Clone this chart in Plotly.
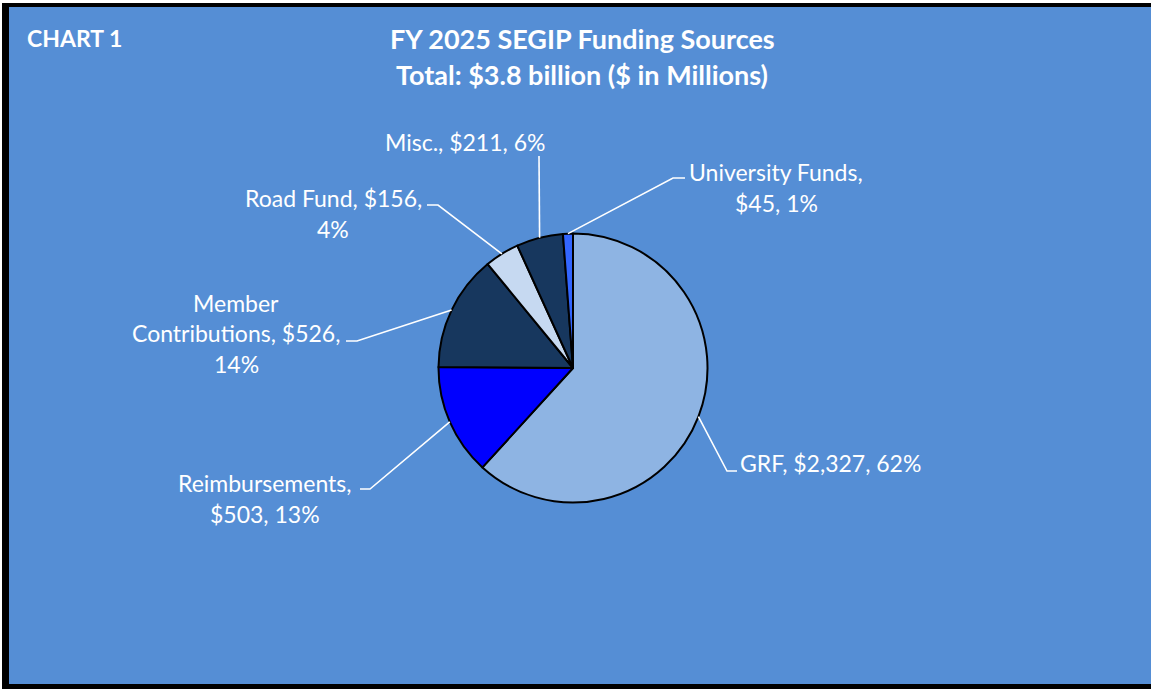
import math
import plotly.graph_objects as go

# ---- data ----
labels = ["GRF", "Reimbursements", "Member Contributions", "Road Fund", "Misc.", "University Funds"]
values = [2327, 503, 526, 156, 211, 45]
colors = ["#8EB4E3", "#0000FF", "#17375E", "#C6D9F1", "#17375E", "#3366FF"]
label_lines = [
    ["GRF, $2,327, 62%"],
    ["Reimbursements,", "$503, 13%"],
    ["Member", "Contributions, $526,", "14%"],
    ["Road Fund, $156,", "4%"],
    ["Misc., $211, 6%"],
    ["University Funds,", "$45, 1%"],
]
title_lines = ["FY 2025 SEGIP Funding Sources", "Total: $3.8 billion ($ in Millions)"]
chart_tag = "CHART 1"

# ---- layout (pixels) ----
W, H = 1151, 689
CX, CY, R = 573, 368, 134.5
BG = "#558ED5"
FONT = "Lato"


def px(x):
    return x / W


def py(y):
    return 1 - y / H


# label block centres (x, first-line y), elbow points and line spacing
label_pos = [
    (830, 463), (265, 483), (236, 303), (333, 198), (465, 142), (776, 172),
]
elbows = [
    [(727, 471), (737, 471)],
    [(370, 489), (360, 489)],
    [(357, 341), (346, 341)],
    [(438, 205), (427, 205)],
    [(539, 156)],
    [(673, 178), (685, 178)],
]
LINE_SP = 30.5

fig = go.Figure()
fig.add_trace(go.Pie(
    labels=labels, values=values, sort=False, direction="clockwise", rotation=0,
    marker=dict(colors=colors, line=dict(color="black", width=2)),
    textinfo="none", hoverinfo="label+value+percent", showlegend=False,
    domain=dict(x=[px(CX - R), px(CX + R)], y=[py(CY + R), py(CY - R)]),
))

shapes = [
    dict(type="rect", xref="paper", yref="paper", x0=px(2), x1=px(W), y0=py(H), y1=py(3),
         fillcolor="black", line=dict(width=0), layer="below"),
    dict(type="rect", xref="paper", yref="paper", x0=px(9), x1=px(W), y0=py(684), y1=py(7),
         fillcolor=BG, line=dict(width=0), layer="below"),
]

total = sum(values)
cum = 0
annotations = []
for i, v in enumerate(values):
    mid = (cum + v / 2) / total * 2 * math.pi
    cum += v
    sx = CX + R * math.sin(mid)
    sy = CY - R * math.cos(mid)
    pts = [(sx, sy)] + elbows[i]
    path = "M " + " L ".join(f"{px(x)},{py(y)}" for x, y in pts)
    shapes.append(dict(type="path", xref="paper", yref="paper", path=path,
                       line=dict(color="white", width=1.6)))
    lx, ly = label_pos[i]
    for j, t in enumerate(label_lines[i]):
        annotations.append(dict(
            text=t, xref="paper", yref="paper", x=px(lx), y=py(ly + j * LINE_SP),
            xanchor="center", yanchor="middle", showarrow=False,
            font=dict(family=FONT, size=23, color="white")))

for j, t in enumerate(title_lines):
    annotations.append(dict(
        text=f"<b>{t}</b>", xref="paper", yref="paper", x=px(582), y=py(38 + j * 36),
        xanchor="center", yanchor="middle", showarrow=False,
        font=dict(family=FONT, size=27, color="white")))
annotations.append(dict(
    text=f"<b>{chart_tag}</b>", xref="paper", yref="paper", x=px(25), y=py(38),
    xanchor="left", yanchor="middle", showarrow=False,
    font=dict(family=FONT, size=23, color="white")))

fig.update_layout(
    width=W, height=H, margin=dict(l=0, r=0, t=0, b=0),
    paper_bgcolor="white", plot_bgcolor="white",
    shapes=shapes, annotations=annotations,
)
fig.write_html("out.html", config={"displayModeBar": False},
               post_script="document.body.style.margin='0px';document.body.style.overflow='hidden';")
